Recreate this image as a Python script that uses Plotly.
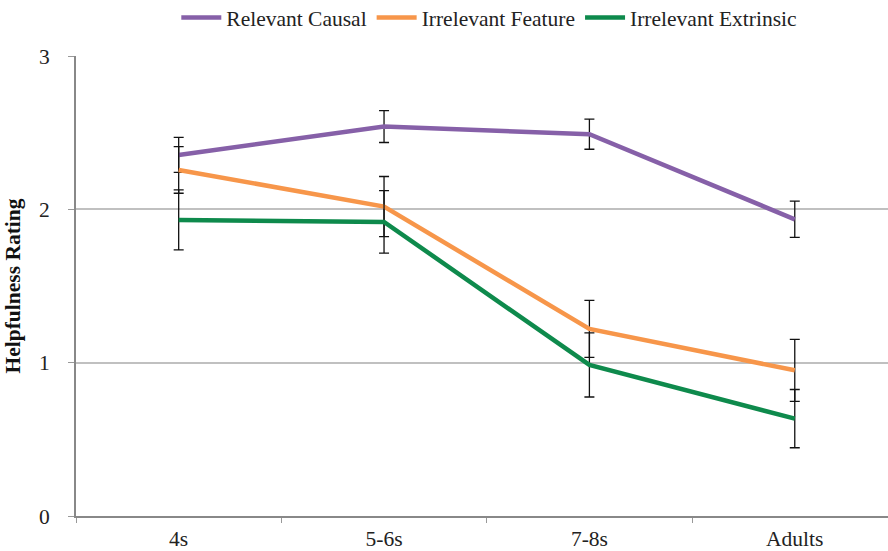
import plotly.graph_objects as go

# Age groups on the x axis
groups = ["4s", "5-6s", "7-8s", "Adults"]

# Mean helpfulness ratings and their error margins per explanation type
relevant_causal = [2.355, 2.54, 2.49, 1.935]
relevant_causal_err = [0.114, 0.104, 0.098, 0.118]

irrelevant_feature = [2.257, 2.018, 1.22, 0.95]
irrelevant_feature_err = [0.152, 0.196, 0.186, 0.202]

irrelevant_extrinsic = [1.931, 1.918, 0.985, 0.635]
irrelevant_extrinsic_err = [0.196, 0.204, 0.209, 0.19]

series = [
    ("Relevant Causal", relevant_causal, relevant_causal_err, "#8660A8"),
    ("Irrelevant Feature", irrelevant_feature, irrelevant_feature_err, "#F7964A"),
    ("Irrelevant Extrinsic", irrelevant_extrinsic, irrelevant_extrinsic_err, "#0E8A4C"),
]

FONT = "Liberation Serif, Times New Roman, serif"
FS = 21.5

fig = go.Figure()
for name, vals, errs, color in series:
    fig.add_trace(go.Scatter(
        x=groups, y=vals, name=name, mode="lines",
        line=dict(color=color, width=4.5),
        error_y=dict(type="data", array=errs, visible=True,
                     color="#111111", thickness=1.3, width=5),
    ))

fig.update_layout(
    width=888, height=551,
    margin=dict(l=76, r=0, t=56, b=35, autoexpand=False),
    paper_bgcolor="white", plot_bgcolor="white",
    font=dict(family=FONT, size=FS, color="#222222"),
    showlegend=True,
    legend=dict(orientation="h", x=0.509, xanchor="center",
                yref="container", y=0.968, yanchor="middle",
                font=dict(family=FONT, size=FS, color="#222222"),
                itemwidth=40, tracegroupgap=0, bgcolor="rgba(0,0,0,0)"),
    xaxis=dict(type="category", range=[-0.5, 3.454], tickson="boundaries",
               automargin=False,
               ticks="outside", ticklen=5, tickcolor="#999999",
               showline=True, linecolor="#888888", linewidth=2,
               showgrid=False, zeroline=False, ticklabelstandoff=2,
               tickfont=dict(family=FONT, size=FS, color="#222222")),
    yaxis=dict(range=[0, 3], tickvals=[0, 1, 2, 3], ticks="outside", ticklen=6,
               automargin=False,
               tickcolor="#999999", showline=True, linecolor="#888888", linewidth=2,
               showgrid=True, gridcolor="#C0C0C0", gridwidth=1.5, zeroline=False,
               ticklabelstandoff=14,
               tickfont=dict(family=FONT, size=FS, color="#222222")),
)
fig.update_yaxes(title=dict(text="<b>Helpfulness Rating</b>", standoff=12,
                            font=dict(family=FONT, size=21.5, color="#111111")))

fig.write_html("out.html")
